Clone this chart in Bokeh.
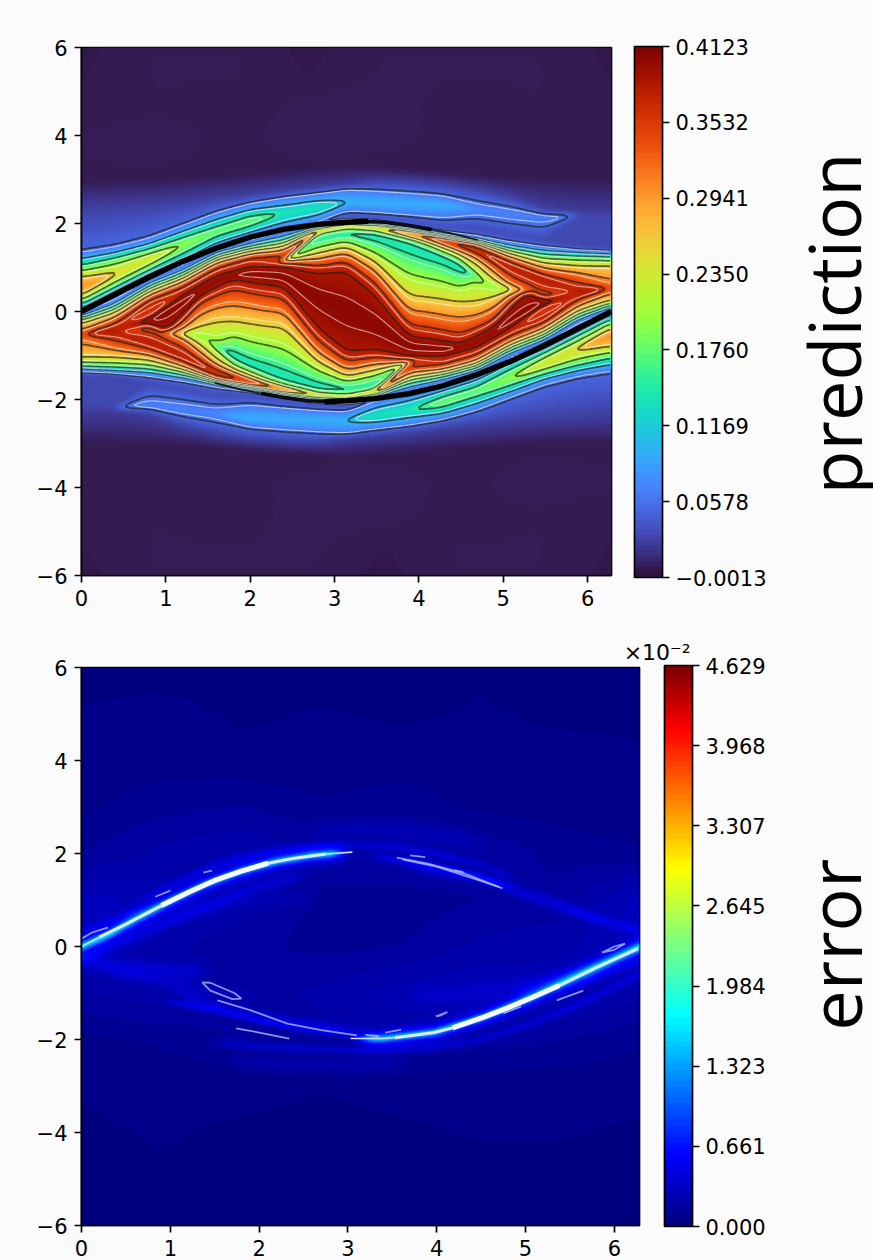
import numpy as np
from bokeh.embed import file_html
from bokeh.core.properties import value
from bokeh.layouts import column, row
from bokeh.models import ColorBar, FixedTicker, LinearColorMapper, Range1d, Title
from bokeh.palettes import Turbo256
from bokeh.plotting import figure
from bokeh.resources import INLINE

# ---- tick labels ----
x_ticks = [0, 1, 2, 3, 4, 5, 6]
y_ticks = [-6, -4, -2, 0, 2, 4, 6]
pred_tick_labels = ["−0.0013", "0.0578", "0.1169", "0.1760", "0.2350", "0.2941", "0.3532", "0.4123"]
err_tick_labels = ["0.000", "0.661", "1.323", "1.984", "2.645", "3.307", "3.968", "4.629"]
PRED_LOW, PRED_HIGH = -0.0013, 0.4123
ERR_LOW, ERR_HIGH = 0.0, 4.629

# ---- prediction: iso-value layers, one y per layer in each column ----
half_values = [.002, .004, .025, .05, .07, .10, .14, .19, .25, .31, .25, .19, .14, .10, .07, .03, .03, .055,
               .10, .18, .26, .33, .385, .33, .26, .19, .13, .19, .26, .33, .385, .405]
layer_values = half_values + half_values[-2::-1]
col_x = [0, .4, .8, 1.2, 1.6, 2.0, 2.4, 2.8, np.pi]
col_0 = ([-6, -3.05, -2.2, -2.2] + [-2.2] * 11 + [-1.37, -1.36] + [-1.3, -1.2, -1.02, -.52, -.52] + [-.52] * 8 + [-.52]
         + [-.52] * 8 + [-.52, -.52, -.28, -.17, -.12] + [-.08, -.05]
         + [.02, .08, .15, .24, .36, .55, .8, .95, 1.08, 1.2, 1.3] + [1.34, 2.35, 3.0, 6])
col_1 = ([-6, -3.05, -2.2, -2.2] + [-2.2] * 11 + [-1.41, -1.4] + [-1.33, -1.22, -1.02, -.78, -.45] + [-.45] * 8 + [-.42]
         + [-.4] * 8 + [-.38, -.2, -.03, .08, .17] + [.25, .33]
         + [.42, .47, .54, .63, .84, .85, .86, 1.13, 1.24, 1.34, 1.42] + [1.46, 2.4, 3.0, 6])
col_2 = ([-6, -3.05, -2.32, -2.2] + [-2.19] * 11 + [-1.6, -1.45] + [-1.38, -1.25, -1.08, -.92, -.72] + [-.3] * 8 + [-.2]
         + [-.1] * 8 + [.16, .32, .44, .55, .62] + [.69, .73]
         + [.8, .86, .93, 1.02, 1.2, 1.2, 1.21, 1.33, 1.44, 1.54, 1.61] + [1.66, 2.45, 3.0, 6])
col_3 = ([-6, -3.05, -2.62, -2.38] + [-2.25] * 11 + [-1.75, -1.55] + [-1.49, -1.4, -1.3, -1.19, -1.03]
         + [-.68, -.5, -.5, -.5, -.5, -.5, -.33, -.08] + [.2]
         + [.42] + [.43] * 7 + [.45, .62, .74, .84, .93] + [1.0, 1.06]
         + [1.13, 1.18, 1.25, 1.5, 1.51, 1.51, 1.52, 1.53, 1.72, 1.82, 1.9] + [1.95, 2.5, 3.05, 6])
col_4 = ([-6, -3.1, -2.8, -2.52] + [-2.33] * 11 + [-1.9, -1.67] + [-1.64, -1.61, -1.57, -1.52, -1.42]
         + [-1.27, -1.13, -.8, -.8, -.8, -.15, .25, .55] + [.72]
         + [.85] + [.87] * 7 + [.9, 1.05, 1.17, 1.25, 1.32] + [1.38, 1.44]
         + [1.5, 1.55, 1.68, 1.83, 1.83, 1.83, 1.83, 1.83, 1.95, 2.1, 2.19] + [2.25, 2.58, 3.1, 6])
col_5 = ([-6, -3.15, -2.92, -2.66] + [-2.56] + [-2.44] * 9 + [-2.22] + [-1.92, -1.76] + [-1.74, -1.72, -1.7, -1.67, -1.62]
         + [-1.56, -1.48, -1.35, -1.22, -.77, -.2, .28, .65] + [.85]
         + [1.07] + [1.09] * 7 + [1.12, 1.27, 1.36, 1.45, 1.53] + [1.6, 1.66]
         + [1.74, 1.8, 1.9, 2.06, 2.06, 2.06, 2.06, 2.06, 2.2, 2.32, 2.4] + [2.47, 2.65, 3.15, 6])
col_6 = ([-6, -3.2, -2.98, -2.72] + [-2.62] + [-2.46] * 9 + [-2.26] + [-2.05, -1.89] + [-1.87, -1.86, -1.84, -1.82, -1.79]
         + [-1.76, -1.72, -1.67, -1.5, -.95, -.28, .15, .55] + [.8]
         + [1.05] + [1.15] * 7 + [1.22, 1.32, 1.47, 1.58, 1.7] + [1.8, 1.86]
         + [1.93, 2.0, 2.25, 2.25, 2.25, 2.25, 2.25, 2.25, 2.26, 2.42, 2.52] + [2.61, 2.75, 3.2, 6])
col_7 = ([-6, -3.25, -3.0, -2.76] + [-2.68] + [-2.46] * 9 + [-2.3] + [-2.15, -1.99] + [-1.98, -1.97, -1.96, -1.95, -1.94]
         + [-1.92, -1.9, -1.86, -1.72, -1.38, -1.1, -.8, -.4] + [.3]
         + [.9, 1.12, 1.3, 1.48, 1.7, 1.77, 1.81, 1.83] + [1.85, 1.86, 1.87, 1.89, 1.91] + [1.95, 2.0]
         + [2.08, 2.17, 2.38, 2.38, 2.38, 2.38, 2.38, 2.38, 2.39, 2.52, 2.62] + [2.7, 2.82, 3.25, 6])
col_8 = ([-6, -3.3, -2.88, -2.79] + [-2.72] + [-2.48] * 9 + [-2.33] + [-2.18, -2.03] + [-2.01, -2.0, -1.99, -1.98, -1.97]
         + [-1.96, -1.93, -1.89, -1.8, -1.62, -1.45, -1.24, -.95] + [0]
         + [.95, 1.24, 1.45, 1.62, 1.8, 1.89, 1.93, 1.96] + [1.97, 1.98, 1.99, 2.0, 2.01] + [2.03, 2.18]
         + [2.33] + [2.48] * 9 + [2.72] + [2.79, 2.88, 3.3, 6])
pred_columns = [col_0, col_1, col_2, col_3, col_4, col_5, col_6, col_7, col_8]
# where the low gap under the lower lobe starts in each column
gap_low = [-2.2, -2.2, -1.62, -1.75, -1.9, -1.92, -2.05, -2.15, -2.18]
# extra readings of the lower spiral arm (eight layers)
arm_x = [1.0, 1.4, 1.8, 2.2]
arm_1_0 = [-.5] * 8
arm_1_4 = [-1.02, -.76, -.55, -.55, -.55, -.3, .08, .35]
arm_1_8 = [-1.42, -1.32, -1.2, -1.02, -.62, -.15, .35, .75]
arm_2_2 = [-1.67, -1.62, -1.53, -1.35, -.85, -.25, .2, .6]
arm_rows = [arm_1_0, arm_1_4, arm_1_8, arm_2_2]
# faint patches of the far field above and below the layer (y = 3.5, 4.5, 5.5 rows; x across)
far_patch = [
    [.003, .004, .001, .003, .002, .001, .001, .001],
    [.001, .002, .001, .003, .003, .001, .002, .002],
    [.001, .003, .003, .001, .003, .003, .003, .001],
]

# thick black curves
black_up_x = [0, .4, .8, 1.2, 1.6, 2.0, 2.4, 2.8, 3.14, 3.4]
black_up_y = [0, .39, .78, 1.14, 1.44, 1.69, 1.87, 1.98, 2.03, 2.05]
black_up_mid_x = [3.3, 3.6, 3.9, 4.15]
black_up_mid_y = [2.05, 2.03, 1.95, 1.86]
black_up_thin_x = [4.1, 4.4, 4.7]
black_up_thin_y = [1.89, 1.77, 1.62]
black_lo_x = [2.88, 3.14, 3.48, 3.88, 4.28, 4.68, 5.08, 5.48, 5.88, 6.28]
black_lo_y = [-2.05, -2.03, -1.98, -1.87, -1.69, -1.44, -1.14, -.78, -.39, 0]
black_lo_mid_x = [2.13, 2.38, 2.68, 2.98]
black_lo_mid_y = [-1.86, -1.95, -2.03, -2.05]
black_lo_thin_x = [1.58, 1.88, 2.18]
black_lo_thin_y = [-1.62, -1.77, -1.89]

# ---- error: coarse background (values x 1e-2), y=-6..6 by 1, x across ----
err_base = [
    [.03, .03, .03, .03, .03, .03, .03, .03],
    [.03, .04, .03, .03, .04, .03, .03, .03],
    [.04, .05, .04, .03, .04, .05, .05, .04],
    [.05, .06, .06, .05, .06, .06, .06, .06],
    [.08, .10, .14, .16, .18, .16, .14, .10],
    [.18, .22, .16, .20, .26, .28, .26, .20],
    [.30, .20, .16, .12, .14, .20, .22, .30],
    [.30, .26, .20, .12, .10, .14, .16, .30],
    [.14, .20, .24, .18, .22, .18, .12, .10],
    [.08, .12, .14, .10, .12, .08, .07, .06],
    [.06, .07, .06, .06, .07, .06, .06, .05],
    [.05, .06, .04, .05, .04, .05, .04, .04],
    [.03, .03, .03, .03, .03, .04, .03, .03],
]
# soft streaks in the error field: x list, y list, height (x 1e-2), half-width in y
streak_xs = [
    [0, .3, .6, 1.0, 1.4, 1.8, 2.2, 2.6, 3.05],
    [3.03, 3.4, 3.97, 4.53, 5.08, 5.65, 6.28],
    [0, .3, .6, 1.0, 1.4, 1.8, 2.2, 2.6, 3.05],
    [3.03, 3.4, 3.97, 4.53, 5.08, 5.65, 6.28],
    [.6, 1, 1.5, 2, 2.5, 3, 3.5, 4, 4.5, 5],
    [0, .4, .9, 1.4, 2.0, 2.6],
    [1.4, 2.0, 2.6, 3.2, 3.8, 4.4, 5.0, 5.6, 6.28],
    [3.6, 4.2, 4.8, 5.3, 5.8, 6.28],
    [1.0, 1.5, 2.1, 2.7, 3.2],
    [0, .5, 1.0, 1.5],
    [4.8, 5.4, 5.9, 6.28],
    [3.5, 4.0, 4.5, 5.0, 5.5, 6.0],
    [3.2, 3.8, 4.4, 4.9],
    [.2, .8, 1.4, 2.0],
    [.9, 1.5, 2.0, 2.6, 3.2],
    [2.5, 3.2, 3.9, 4.6],
    [1.6, 2.3, 3.0, 3.7],
    [.3, 1.1, 1.9, 2.7],
    [3.6, 4.4, 5.2, 6.0],
    [0, .4, .9],
    [5.4, 5.9, 6.28],
]
streak_ys = [
    [.0, .25, .58, .98, 1.34, 1.62, 1.83, 1.96, 2.03],
    [-1.98, -1.98, -1.85, -1.52, -1.09, -.58, -.02],
    [.0, .25, .58, .98, 1.34, 1.62, 1.83, 1.96, 2.03],
    [-1.98, -1.98, -1.85, -1.52, -1.09, -.58, -.02],
    [.95, 1.3, 1.75, 2.0, 2.15, 2.2, 2.15, 2.0, 1.75, 1.4],
    [-.3, .05, .45, .85, 1.3, 1.55],
    [-2.05, -2.15, -2.2, -2.24, -2.2, -2.05, -1.7, -1.25, -.6],
    [1.75, 1.55, 1.3, 1.0, .6, .35],
    [-.95, -1.25, -1.5, -1.7, -1.8],
    [-.3, -.45, -.5, -.55],
    [-1.05, -.7, -.3, .0],
    [1.9, 1.72, 1.45, 1.05, .75, .5],
    [1.95, 1.8, 1.55, 1.3],
    [-.5, -.7, -.95, -1.1],
    [-1.15, -1.37, -1.6, -1.8, -1.92],
    [2.5, 2.55, 2.45, 2.2],
    [-2.45, -2.55, -2.6, -2.5],
    [.35, .75, 1.0, 1.05],
    [-1.05, -1.0, -.75, -.35],
    [.35, .6, 1.0],
    [-1.0, -.6, -.35],
]
streak_amp = [.85, .85, .55, .55, .2, .2, .22, .2, .22, .18, .18, .14, .3, .12, .35, .1, .1, .08, .08, .18, .18]
streak_wid = [.05, .05, .13, .13, .06, .08, .06, .08, .07, .12, .12, .07, .05, .1, .05, .12, .12, .15, .15, .06, .06]

# near-white bright curves along the two fronts
bright_up_x = [.9, 1.2, 1.5, 1.8, 2.1]
bright_up_y = [.88, 1.16, 1.42, 1.62, 1.79]
bright_up_mid_x = [.2, .5, .9, 1.2, 1.5, 1.8, 2.1, 2.4, 2.75]
bright_up_mid_y = [.2, .48, .88, 1.16, 1.42, 1.62, 1.79, 1.9, 1.99]
bright_up_tail_x = [0, .2, .5, .9, 1.2, 1.5, 1.8, 2.1, 2.4, 2.75, 3.05]
bright_up_tail_y = [.0, .2, .48, .88, 1.16, 1.42, 1.62, 1.79, 1.9, 1.99, 2.03]
bright_lo_x = [4.18, 4.53, 4.8, 5.08, 5.38]
bright_lo_y = [-1.75, -1.52, -1.32, -1.09, -.84]
bright_lo_mid_x = [3.53, 3.97, 4.18, 4.53, 4.8, 5.08, 5.38, 5.8, 6.26]
bright_lo_mid_y = [-1.96, -1.85, -1.75, -1.52, -1.32, -1.09, -.84, -.45, -.05]
bright_lo_tail_x = [3.03, 3.4, 3.53, 3.97]
bright_lo_tail_y = [-1.98, -1.98, -1.96, -1.85]
# thin pale marks
pale_xs = [
    [.83, 1.0], [1.37, 1.47], [0, .12, .3], [3.55, 3.9, 4.3, 4.74], [3.62, 4.0, 4.4, 4.7], [3.7, 3.87], [4.2, 4.3],
    [1.53, 1.9, 2.32, 2.7, 3.1], [1.74, 2.0, 2.34], [3.2, 3.35], [3.42, 3.6], [3.99, 4.12, 4.05, 3.99],
    [4.75, 4.95], [5.35, 5.65], [5.86, 6.0, 6.12, 6.0, 5.86],
    [1.36, 1.45, 1.72, 1.8, 1.7, 1.45, 1.36],
]
pale_ys = [
    [1.07, 1.2], [1.59, 1.63], [.17, .3, .41], [1.91, 1.78, 1.58, 1.25], [1.87, 1.72, 1.47, 1.28], [1.96, 1.92], [1.64, 1.6],
    [-1.16, -1.37, -1.66, -1.8, -1.91], [-1.76, -1.85, -1.98], [-1.9, -1.93], [-1.85, -1.79], [-1.5, -1.41, -1.48, -1.5],
    [-1.44, -1.29], [-1.16, -.95], [-.13, -.07, .06, .0, -.13],
    [-.77, -.78, -1.0, -1.12, -1.13, -.95, -.77],
]


def blur(a, s):
    r = int(3 * s) + 1
    k = np.exp(-.5 * (np.arange(-r, r + 1) / s) ** 2)
    k /= k.sum()
    a = np.apply_along_axis(lambda v: np.convolve(np.pad(v, r, mode="edge"), k, mode="valid"), 0, a)
    return np.apply_along_axis(lambda v: np.convolve(np.pad(v, r, mode="edge"), k, mode="valid"), 1, a)


# ---- build raster from the layers (mirrored about the centre of the domain) ----
L = 2 * np.pi
Y = np.array(pred_columns, dtype=float)
dip_up = Y[:, 45].copy()
Y = np.insert(Y, 46, dip_up, axis=1)
Y = np.insert(Y, 15, gap_low, axis=1)
assert Y.shape[1] == len(layer_values)
all_x = sorted(col_x + arm_x)
Yx = np.array([[np.interp(x, col_x, Y[:, k]) for k in range(Y.shape[1])] for x in all_x])
for x, row_ in zip(arm_x, arm_rows):
    Yx[all_x.index(x), 23:31] = row_
xs_all = np.array(all_x + [L - x for x in all_x[-2::-1]])
Y_all = np.vstack([Yx, -Yx[::-1, ::-1][1:]])
nx, ny = 530, 528
xf = (np.arange(nx) + .5) / nx * L
yf = (np.arange(ny) + .5) / ny * 12 - 6
Yf = np.array([np.interp(xf, xs_all, Y_all[:, k]) for k in range(Y_all.shape[1])])
win = 15
ker = np.ones(win) / win
Yf = np.array([np.convolve(np.pad(r, win // 2, mode="edge"), ker, mode="valid") for r in Yf])
vals = np.array(layer_values)
eps = 1e-7 * np.arange(Yf.shape[0])
pred = np.zeros((ny, nx))
for i in range(nx):
    yy = np.maximum.accumulate(Yf[:, i]) + eps
    pred[:, i] = np.interp(yf, yy, vals)
far = np.array(far_patch)
fx = np.linspace(0, L, far.shape[1])
far_t = np.array([np.interp(xf, fx, r) for r in far])
far_up = np.array([np.interp(np.abs(yf), [3.5, 4.5, 5.5], far_t[:, i]) for i in range(nx)]).T
far_lo = far_up[:, ::-1]
pred += np.where(yf[:, None] > 0, far_up, far_lo) * np.clip(np.abs(yf[:, None]) - 3.0, 0, 1)
pred = blur(pred, 2.6)

base = np.array(err_base)
bx = np.linspace(0, L, base.shape[1])
by = np.arange(-6, 7)
ex = (np.arange(558) + .5) / 558 * L
ey = (np.arange(558) + .5) / 558 * 12 - 6
tmp = np.array([np.interp(ex, bx, r) for r in base])
err = np.array([np.interp(ey, by, tmp[:, i]) for i in range(len(ex))]).T
for sx, sy, amp, wid in zip(streak_xs, streak_ys, streak_amp, streak_wid):
    ramp = min(.25, (sx[-1] - sx[0]) / 3)
    fade = np.interp(ex, [sx[0], sx[0] + ramp, sx[-1] - ramp, sx[-1]], [0, 1, 1, 0])
    if sx[0] == 0:
        fade = np.interp(ex, [sx[-1] - ramp, sx[-1]], [1, 0])
    if sx[-1] > 6.27:
        fade = np.interp(ex, [sx[0], sx[0] + ramp], [0, 1])
    yc = np.interp(ex, sx, sy)
    err += amp * fade * np.exp(-.5 * ((ey[:, None] - yc[None, :]) / wid) ** 2)
err = blur(err, 1.0)

# ---- colours ----
jet_pos = [0, .11, .125, .375, .64, .89, 1]
jet_rgb = np.array([[0, 0, 127], [0, 0, 240], [0, 0, 255], [0, 255, 255], [255, 255, 0], [255, 0, 0], [127, 0, 0]], float)
t = np.linspace(0, 1, 100)
jet = ["#%02x%02x%02x" % tuple(int(np.interp(v, jet_pos, jet_rgb[:, c])) for c in range(3)) for v in t]
turbo = [Turbo256[int(i)] for i in np.linspace(0, 255, 100)]
pred_map = LinearColorMapper(palette=list(Turbo256), low=PRED_LOW, high=PRED_HIGH)
pred_bar_map = LinearColorMapper(palette=turbo, low=PRED_LOW, high=PRED_HIGH)
err_map = LinearColorMapper(palette=jet, low=ERR_LOW, high=ERR_HIGH)

BG = "#fbfbfb"
FONT = "DejaVu Sans"
TICK_PX = "21px"
SIDE_W = 93


def base_fig(fw, fh, top, bottom, right):
    p = figure(frame_width=fw, frame_height=fh, x_range=Range1d(0, L), y_range=Range1d(-6, 6),
               min_border_left=73, min_border_top=top, min_border_bottom=bottom, min_border_right=right,
               toolbar_location=None, output_backend="svg", background_fill_color=BG, border_fill_color=BG)
    p.grid.visible = False
    p.outline_line_color = "black"
    p.outline_line_width = 1.7
    for ax, tk in ((p.xaxis, x_ticks), (p.yaxis, y_ticks)):
        ax.ticker = FixedTicker(ticks=tk)
        ax.major_label_overrides = {v: str(v).replace("-", "−") for v in tk}
        ax.major_label_text_font = FONT
        ax.major_label_text_font_size = TICK_PX
        ax.major_label_text_color = "black"
        ax.axis_line_width = 1.7
        ax.major_tick_line_width = 1.7
        ax.major_tick_out = 7
        ax.major_tick_in = 0
        ax.minor_tick_line_color = None
        ax.major_label_standoff = 7
    return p


def add_bar(p, mapper, labels, low, high, loc, height):
    ticks = list(np.linspace(low, high, len(labels)))
    cb = ColorBar(color_mapper=mapper, ticker=FixedTicker(ticks=ticks),
                  major_label_overrides=dict(zip(ticks, labels)),
                  width=28, height=height, margin=0, padding=0, location=loc,
                  major_tick_in=0, major_tick_out=7, major_tick_line_color="black", major_tick_line_width=1.7,
                  bar_line_color="black", bar_line_width=1.7, minor_tick_line_color=None,
                  label_standoff=6, major_label_text_font=FONT, major_label_text_font_size=TICK_PX,
                  major_label_text_color="black", background_fill_color=BG, background_fill_alpha=0)
    p.add_layout(cb, "right")


def side_label(text, h, bottom_y, base_x):
    q = figure(width=SIDE_W, height=h, x_range=Range1d(0, SIDE_W), y_range=Range1d(0, h), min_border=0,
               toolbar_location=None, output_backend="svg", background_fill_color=BG, border_fill_color=BG,
               x_axis_location=None, y_axis_location=None, outline_line_color=None)
    q.grid.visible = False
    q.text(x=[base_x], y=[bottom_y], text=[text], angle=[np.pi / 2], text_font=value("Open Sans"),
           text_font_size="72px", text_color="black", text_baseline="alphabetic", text_align="left")
    return q


# ---- top panel ----
p1 = base_fig(530, 528, 39, 52, 169)
p1.image(image=[pred], x=0, y=-6, dw=L, dh=12, color_mapper=pred_map)
gx, gy = xf[::2], yf[::2]
dark_levels = [.05, .10, .15, .20, .25, .30, .35, .385]
white_levels = [.058, .112, .165, .215, .265, .315, .365, .398]
p1.contour(gx, gy, pred[::2, ::2], dark_levels, line_color="#202020", line_alpha=.68, line_width=1.8, fill_color=None)
p1.contour(gx, gy, pred[::2, ::2], white_levels, line_color="#ffffff", line_alpha=.55, line_width=1.2, fill_color=None)
p1.line(black_up_thin_x, black_up_thin_y, line_color="black", line_width=1.8, line_alpha=.8)
p1.line(black_lo_thin_x, black_lo_thin_y, line_color="black", line_width=1.8, line_alpha=.8)
p1.line(black_up_mid_x, black_up_mid_y, line_color="black", line_width=3.5, line_alpha=.9)
p1.line(black_lo_mid_x, black_lo_mid_y, line_color="black", line_width=3.5, line_alpha=.9)
p1.line(black_up_x, black_up_y, line_color="black", line_width=5.5)
p1.line(black_lo_x, black_lo_y, line_color="black", line_width=5.5)
add_bar(p1, pred_bar_map, pred_tick_labels, PRED_LOW, PRED_HIGH, (23, -2), 531)
q1 = side_label("prediction", 619, 95, 53)

# ---- bottom panel ----
p2 = base_fig(558, 558, 40, 35, 141)
p2.image(image=[err], x=0, y=-6, dw=L, dh=12, color_mapper=err_map)
p2.line(bright_up_tail_x, bright_up_tail_y, line_color="#cfd8ff", line_width=1.6)
p2.line(bright_lo_tail_x, bright_lo_tail_y, line_color="#cfd8ff", line_width=1.6)
p2.line(bright_up_mid_x, bright_up_mid_y, line_color="#dfe8ff", line_width=3)
p2.line(bright_lo_mid_x, bright_lo_mid_y, line_color="#dfe8ff", line_width=3)
p2.line(bright_up_x, bright_up_y, line_color="#f8faff", line_width=5)
p2.line(bright_lo_x, bright_lo_y, line_color="#f8faff", line_width=5)
p2.multi_line(pale_xs, pale_ys, line_color="#b8c4ff", line_alpha=.75, line_width=1.8)
add_bar(p2, err_map, err_tick_labels, ERR_LOW, ERR_HIGH, (25, -1), 561)
p2.add_layout(Title(text="×10⁻²", align="right", offset=-51, standoff=6, text_font=FONT, text_font_size="22px",
                    text_font_style="normal", text_color="black"), "above")
q2 = side_label("error", 633, 221, 53)

page = column(row(p1, q1, spacing=0), row(p2, q2, spacing=0), spacing=0)
html = file_html(page, INLINE)
html = html.replace("<head>", "<head><style>html{background:#fbfbfb;overflow:hidden}body{background:#fbfbfb;margin:8px 0 0 8px !important;}</style>", 1)
open("out.html", "w").write(html)
